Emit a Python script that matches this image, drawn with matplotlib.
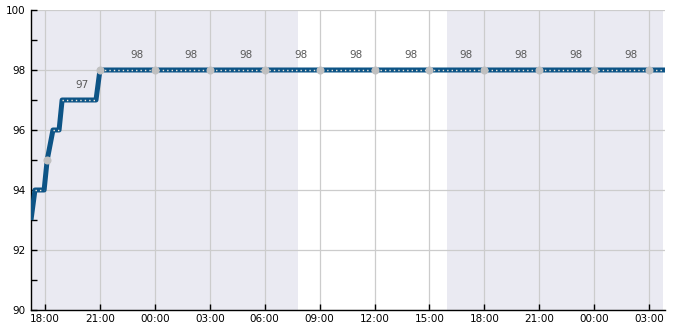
import matplotlib
matplotlib.use("Agg")
import matplotlib.pyplot as plt
import matplotlib.dates as mdates
from matplotlib.ticker import MultipleLocator
import pandas as pd

# ---- data ----
line_times = ["2023-12-01 17:14", "2023-12-01 17:27", "2023-12-01 17:57", "2023-12-01 18:07",
              "2023-12-01 18:26", "2023-12-01 18:46", "2023-12-01 18:56", "2023-12-01 20:47",
              "2023-12-01 21:00", "2023-12-03 03:52"]
line_values = [93, 94, 94, 95, 96, 96, 97, 97, 98, 98]

marker_times = ["2023-12-01 18:06", "2023-12-01 21:00", "2023-12-02 00:00", "2023-12-02 03:00",
                "2023-12-02 06:00", "2023-12-02 09:00", "2023-12-02 12:00", "2023-12-02 15:00",
                "2023-12-02 18:00", "2023-12-02 21:00", "2023-12-03 00:00", "2023-12-03 03:00"]
marker_values = [95, 98, 98, 98, 98, 98, 98, 98, 98, 98, 98, 98]

label_times = ["2023-12-01 20:00", "2023-12-01 23:00", "2023-12-02 02:00", "2023-12-02 05:00",
               "2023-12-02 08:00", "2023-12-02 11:00", "2023-12-02 14:00", "2023-12-02 17:00",
               "2023-12-02 20:00", "2023-12-02 23:00", "2023-12-03 02:00"]
label_values = [97, 98, 98, 98, 98, 98, 98, 98, 98, 98, 98]

night_starts = ["2023-12-01 17:14", "2023-12-02 15:56"]
night_ends = ["2023-12-02 07:48", "2023-12-03 03:47"]

x_start = "2023-12-01 17:14"
x_end = "2023-12-03 03:52"

# ---- figure ----
fig = plt.figure(figsize=(6.85, 3.30), dpi=100)
ax = fig.add_axes([31 / 685, 20 / 330, 634 / 685, 300 / 330])
ax.set_facecolor("white")

for s, e in zip(night_starts, night_ends):
    ax.axvspan(pd.Timestamp(s), pd.Timestamp(e), color="#eaeaf2", lw=0, zorder=0)

lt = pd.to_datetime(line_times)
ax.plot(lt, line_values, color="#0d5486", lw=3.6, solid_capstyle="butt", zorder=3)
# dotted highlight only along the flat stretches
for i in range(len(line_values) - 1):
    if line_values[i] == line_values[i + 1]:
        ax.plot(lt[i:i + 2], line_values[i:i + 2], color="#f3e9d8", lw=1.0,
                linestyle=(0, (1, 2.2)), zorder=4)

mt = pd.to_datetime(marker_times)
ax.plot(mt, marker_values, linestyle="none", marker="o", ms=5.8, color="#c0c0c0",
        markeredgewidth=0, zorder=5)

for t, v in zip(pd.to_datetime(label_times), label_values):
    ax.text(t, v + 0.5, str(v), ha="center", va="center", fontsize=7.5, color="#595959",
            zorder=6)

ax.set_xlim(pd.Timestamp(x_start), pd.Timestamp(x_end))
ax.set_ylim(90, 100)
ax.yaxis.set_major_locator(MultipleLocator(2))
ax.yaxis.set_minor_locator(MultipleLocator(1))
ax.xaxis.set_major_locator(mdates.HourLocator(byhour=[0, 3, 6, 9, 12, 15, 18, 21]))
ax.xaxis.set_major_formatter(mdates.DateFormatter("%H:%M"))

ax.grid(True, which="major", color="#cccccc", lw=0.9, zorder=1)
ax.set_axisbelow(True)
for side in ("top", "right"):
    ax.spines[side].set_visible(False)
for side in ("left", "bottom"):
    ax.spines[side].set_color("black")
    ax.spines[side].set_linewidth(1.0)

ax.tick_params(axis="both", which="major", direction="in", length=4, width=1,
               labelsize=7.5, colors="black")
ax.tick_params(axis="y", which="minor", direction="in", length=4, width=1)
ax.tick_params(axis="x", which="major", pad=3)
ax.tick_params(axis="y", which="major", pad=4)

fig.savefig("out.png", dpi=100)
